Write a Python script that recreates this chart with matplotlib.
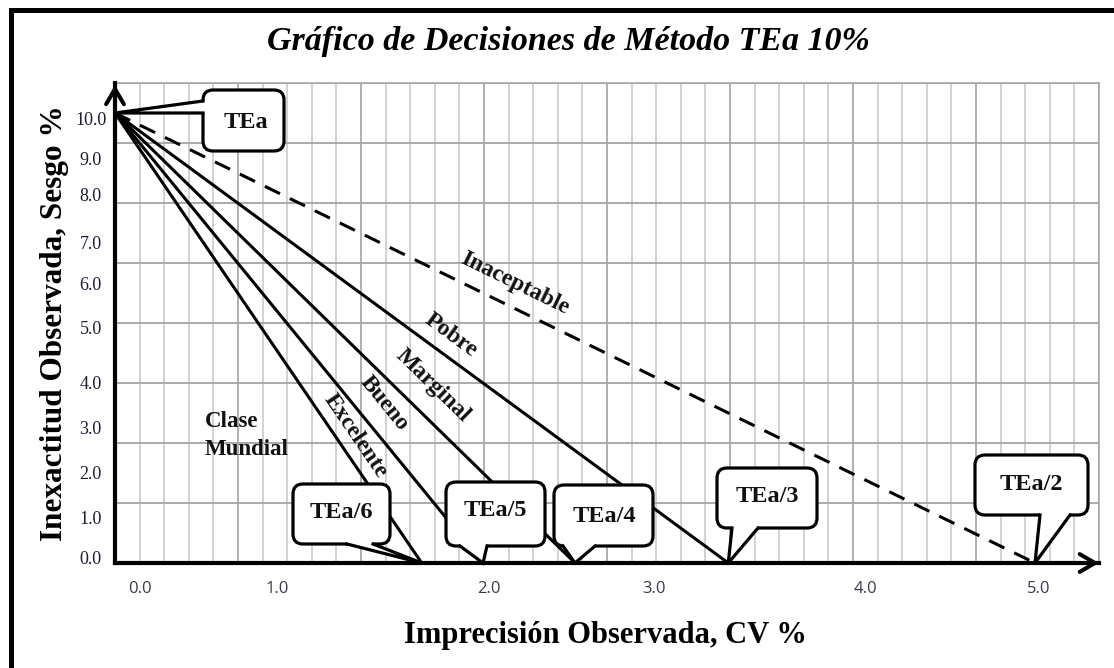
import math
import numpy as np
import matplotlib
matplotlib.use("Agg")
import matplotlib.pyplot as plt
from matplotlib.patches import FancyBboxPatch, Polygon
from matplotlib.lines import Line2D
from matplotlib.transforms import Affine2D

# ---------------- data ----------------
TEA = 10.0                                   # bias intercept (y at CV = 0)
line_names = ["Inaceptable", "Pobre", "Marginal", "Bueno", "Excelente"]
line_x_end = [5.0, 3.333, 2.5, 2.0, 1.667]   # CV where bias reaches 0 (TEa/2 ... TEa/6)
line_dashed = [True, False, False, False, False]
callout_names = ["TEa/2", "TEa/3", "TEa/4", "TEa/5", "TEa/6"]
origin_name = "TEa"
ytick_labels = ["10.0", "9.0", "8.0", "7.0", "6.0", "5.0", "4.0", "3.0", "2.0", "1.0", "0.0"]
xtick_labels = ["0.0", "1.0", "2.0", "3.0", "4.0", "5.0"]
region_text = ["Clase", "Mundial"]
title = "Gráfico de Decisiones de Método TEa 10%"
xlabel = "Imprecisión Observada, CV %"
ylabel = "Inexactitud Observada, Sesgo %"

# ---------------- layout ----------------
W, H = 1114, 668
SERIF = ["Liberation Serif", "DejaVu Serif"]
fig = plt.figure(figsize=(W / 100, H / 100), dpi=100)
fig.patch.set_facecolor("white")

AX_L, AX_R, AX_T, AX_B = 115, 1099, 83, 563
PX_X, PX_Y = 184.0, 45.0
ax = fig.add_axes([AX_L / W, 1 - AX_B / H, (AX_R - AX_L) / W, (AX_B - AX_T) / H])
xmax = (AX_R - AX_L) / PX_X
ymax = (AX_B - AX_T) / PX_Y
ax.set_xlim(0, xmax)
ax.set_ylim(0, ymax)

# grid (40 x 8 cells, every 5th vertical darker)
for i, gx in enumerate(np.linspace(0, xmax, 41)):
    ax.axvline(gx, color="#9a9a9a" if i % 5 == 0 else "#c6c6c6", lw=1.1, zorder=0.5)
for gy in np.linspace(0, ymax, 9):
    ax.axhline(gy, color="#a4a4a4", lw=1.3, zorder=0.5)

for s in ["top", "right"]:
    ax.spines[s].set_color("#a4a4a4")
    ax.spines[s].set_linewidth(1.1)
for s in ["left", "bottom"]:
    ax.spines[s].set_color("black")
    ax.spines[s].set_linewidth(3.0)
    ax.spines[s].set_zorder(3)

# tick labels (positions as they sit in the original picture)
ytick_pos = [9.87, 8.98, 8.18, 7.13, 6.22, 5.24, 4.02, 3.0, 2.02, 1.02, 0.13]
xtick_pos = [0.136, 0.88, 2.03, 2.93, 4.08, 5.02]
ax.set_yticks(ytick_pos, ytick_labels)
ax.set_xticks(xtick_pos, xtick_labels)
ax.tick_params(axis="y", length=0, pad=17.5, labelsize=13, labelcolor="#1c1c34")
ax.tick_params(axis="x", length=0, pad=13, labelsize=12, labelcolor="#3a3a4c")
for t in ax.get_yticklabels():
    t.set_fontfamily(SERIF)
    t.set_ha("center")
for t in ax.get_xticklabels():
    t.set_fontfamily(["Open Sans", "DejaVu Sans"])

# axis arrows
arrow_kw = dict(arrowstyle="->,head_length=0.55,head_width=0.32", lw=2.9, color="black",
                mutation_scale=20, shrinkA=0, shrinkB=0)
ax.annotate("", xy=(0, 0.996), xytext=(0, 0.9), xycoords="axes fraction",
            arrowprops=arrow_kw, annotation_clip=False, zorder=4)
ax.annotate("", xy=(1.0, 0), xytext=(0.95, 0), xycoords="axes fraction",
            arrowprops=arrow_kw, annotation_clip=False, zorder=4)

# decision lines
for xe, dashed in zip(line_x_end, line_dashed):
    ln, = ax.plot([0, xe], [TEA, 0], color="black", lw=2.2, zorder=2,
                  solid_capstyle="butt", clip_on=False)
    if dashed:
        ln.set_dashes([5.5, 3.6])

# ---------------- annotations in pixel coordinates ----------------
T = Affine2D().scale(1, -1).translate(0, H)


def to_px(x, y):
    dx, dy = ax.transData.transform((x, y))
    return dx, H - dy


# line labels
label_centers = [(515, 284), (451, 335), (433, 386), (384, 403), (355, 436)]
p0 = to_px(0, TEA)
for name, xe, (cx, cy) in zip(line_names, line_x_end, label_centers):
    p1 = to_px(xe, 0)
    ang = -math.degrees(math.atan2(p1[1] - p0[1], p1[0] - p0[0]))
    fig.text(cx, cy, name, transform=T, rotation=ang, rotation_mode="anchor",
             ha="center", va="center", fontsize=17, fontweight="bold",
             family=SERIF, color="#111111", zorder=4)

fig.text(205, 427, region_text[0], transform=T, ha="left", va="baseline",
         fontsize=16.5, fontweight="bold", family=SERIF, color="#111111", zorder=4)
fig.text(205, 455, region_text[1], transform=T, ha="left", va="baseline",
         fontsize=16.5, fontweight="bold", family=SERIF, color="#111111", zorder=4)


def callout(text, box, base, tip, side="bottom", text_xy=None):
    x0, y0, x1, y1 = box
    fig.add_artist(FancyBboxPatch((x0, y0), x1 - x0, y1 - y0,
                                  boxstyle="round,pad=0,rounding_size=10",
                                  transform=T, fc="white", ec="black", lw=2.3, zorder=5))
    (ax1, ay1), (ax2, ay2) = base
    if side == "bottom":
        in1, in2 = (ax1, ay1 - 5), (ax2, ay2 - 5)
    else:
        in1, in2 = (ax1 + 5, ay1), (ax2 + 5, ay2)
    fig.add_artist(Polygon([in1, (ax1, ay1), tip, (ax2, ay2), in2], closed=True,
                           transform=T, fc="white", ec="none", zorder=5.5))
    fig.add_artist(Line2D([ax1, tip[0], ax2], [ay1, tip[1], ay2], transform=T,
                          color="black", lw=2.3, zorder=5.6, solid_joinstyle="miter"))
    tx, ty = text_xy if text_xy else ((x0 + x1) / 2, (y0 + y1) / 2)
    fig.text(tx, ty, text, transform=T, ha="center", va="center", fontsize=17.5,
             fontweight="bold", family=SERIF, color="#111111", zorder=6)


# origin callout
tip0 = to_px(0, TEA)
callout(origin_name, (203, 90, 284, 151), ((203, 101), (203, 113)), tip0, side="left",
        text_xy=(246, 123))

boxes = [(975, 455, 1088, 515), (717, 468, 817, 528), (554, 485, 653, 546),
         (446, 482, 545, 546), (293, 484, 390, 544)]
bases = [((1040, 515), (1070, 515)), ((732, 528), (758, 528)), ((563, 546), (595, 546)),
         ((460, 546), (487, 546)), ((347, 544), (373, 544))]
text_pos = [(1031, 484), (767, 497), (604, 516), (495, 510), (341, 513)]
for name, xe, box, base, tp in zip(callout_names, line_x_end, boxes, bases, text_pos):
    callout(name, box, base, to_px(xe, 0), text_xy=tp)

# titles
fig.text(568, 50, title, transform=T, ha="center", va="baseline", fontsize=24.5,
         fontweight="bold", fontstyle="italic", family=SERIF, color="black")
fig.text(605, 643, xlabel, transform=T, ha="center", va="baseline", fontsize=22,
         fontweight="bold", family=SERIF, color="black")
fig.text(62, 323, ylabel, transform=T, ha="center", va="baseline", rotation=90,
         rotation_mode="anchor", fontsize=22.5, fontweight="bold", family=SERIF, color="black")

# outer frame (top and left edges)
fig.add_artist(Line2D([11, 11, W], [H, 9.5, 9.5], transform=T, color="black", lw=3.6,
                      solid_joinstyle="miter"))

fig.savefig("out.png", dpi=100)
